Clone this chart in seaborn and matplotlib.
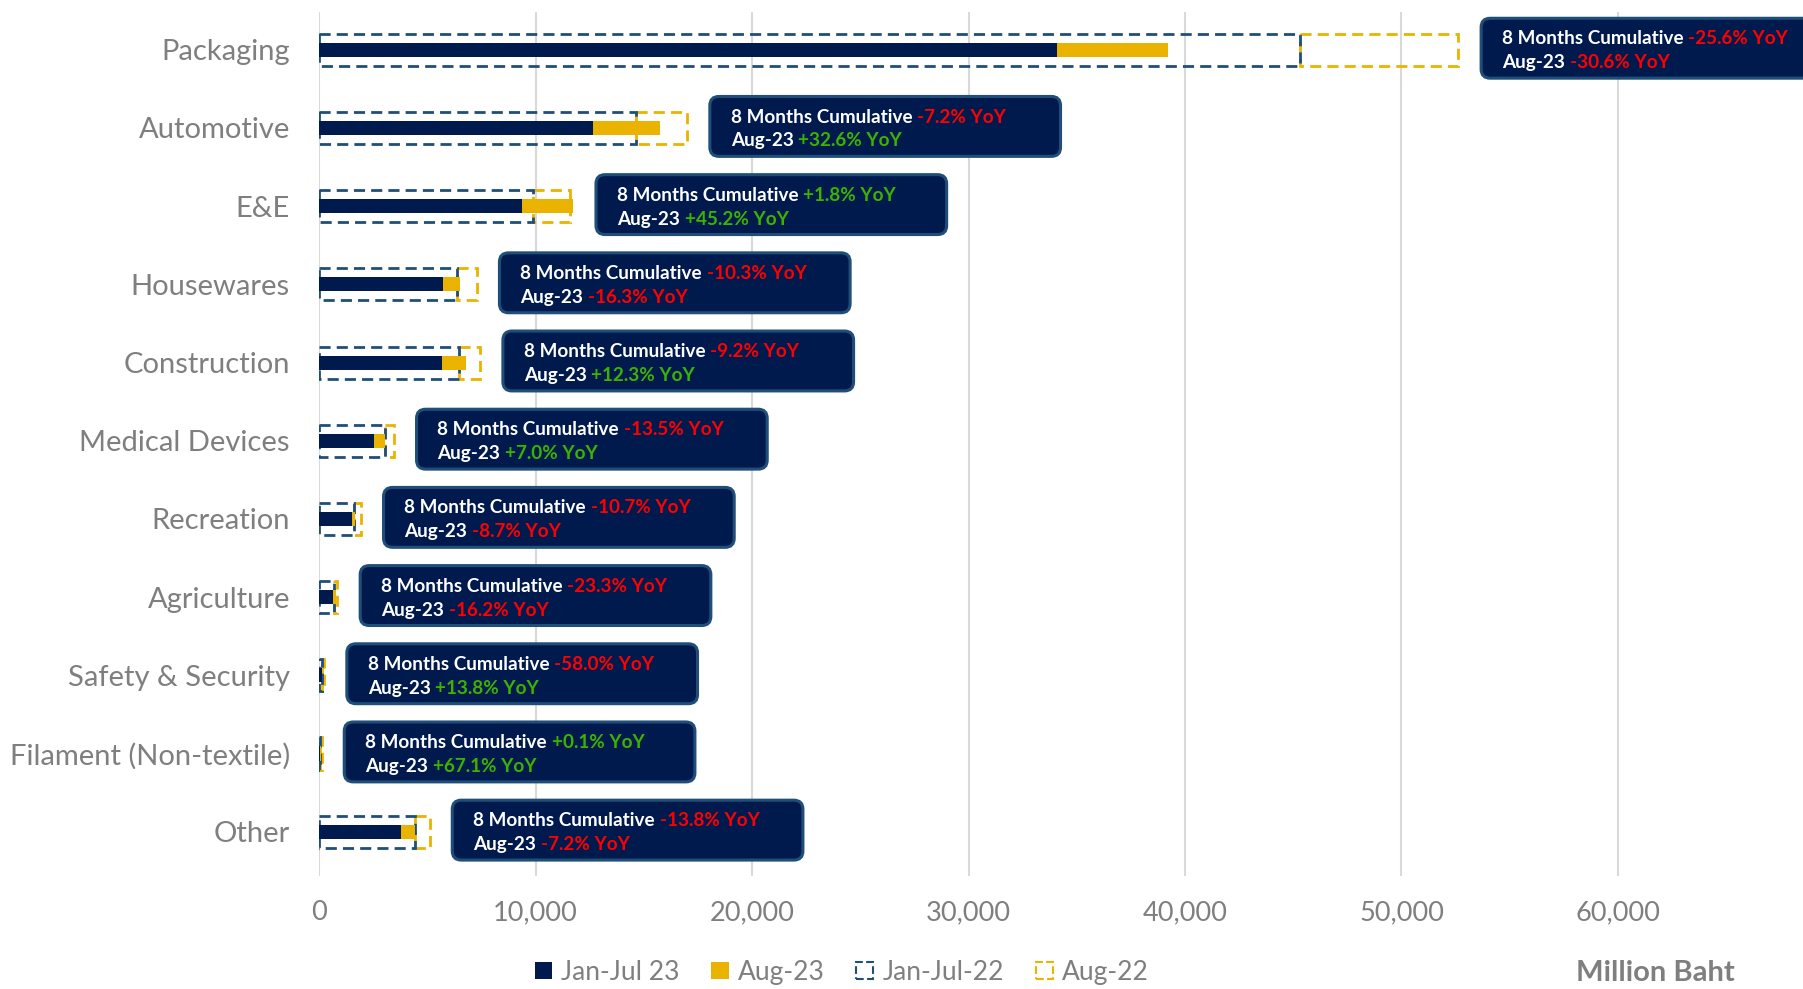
import numpy as np
import pandas as pd
import seaborn as sns
import matplotlib.pyplot as plt
from matplotlib.patches import FancyBboxPatch, Patch

categories = ["Packaging", "Automotive", "E&E", "Housewares", "Construction",
              "Medical Devices", "Recreation", "Agriculture", "Safety & Security",
              "Filament (Non-textile)", "Other"]
janjul_23 = [34100, 12640, 9350, 5740, 5680, 2550, 1510, 660, 110, 40, 3770]
aug_23 = [5100, 3130, 2390, 790, 1120, 480, 150, 125, 40, 30, 640]
janjul_22 = [45300, 14660, 9880, 6370, 6480, 3030, 1630, 706, 140, 60, 4410]
aug_22 = [7330, 2340, 1700, 910, 960, 420, 295, 140, 90, 50, 690]
cum_yoy = [-25.6, -7.2, 1.8, -10.3, -9.2, -13.5, -10.7, -23.3, -58.0, 0.1, -13.8]
aug_yoy = [-30.6, 32.6, 45.2, -16.3, 12.3, 7.0, -8.7, -16.2, 13.8, 67.1, -7.2]
xticks = [0, 10000, 20000, 30000, 40000, 50000, 60000]

NAVY = '#001a4e'
NAVY_DASH = '#1f4e79'
GOLD = '#e9b300'
GREY = '#7f7f7f'
RED = '#ff0000'
GREEN = '#3cb300'

sns.set_theme(style='white')
plt.rcParams['font.family'] = ['Lato', 'DejaVu Sans']

df = pd.DataFrame({'category': categories, 'janjul_23': janjul_23, 'aug_23': aug_23,
                   'janjul_22': janjul_22, 'aug_22': aug_22})
df['total_23'] = df['janjul_23'] + df['aug_23']
df['total_22'] = df['janjul_22'] + df['aug_22']
n = len(df)

fig = plt.figure(figsize=(18.03, 9.89), dpi=100)
ax_rect = [0.177, 0.114, 0.823, 0.874]
ax = fig.add_axes(ax_rect)

xmax = 68550
ylim = (10.57, -0.485)
dash = (0, (4.0, 2.2))

# this year: solid stacked bars
sns.barplot(data=df, x='total_23', y='category', color=GOLD, saturation=1, width=0.18,
            linewidth=0, errorbar=None, ax=ax, zorder=4)
sns.barplot(data=df, x='janjul_23', y='category', color=NAVY, saturation=1, width=0.18,
            linewidth=0, errorbar=None, ax=ax, zorder=5)
# last year: dashed outlines
sns.barplot(data=df, x='janjul_22', y='category', fill=False, color=NAVY_DASH, width=0.41,
            linewidth=2, linestyle=dash, errorbar=None, ax=ax, zorder=3)
ax.barh(np.arange(n), df['aug_22'], left=df['janjul_22'], height=0.41, fill=False,
        edgecolor=GOLD, lw=2, linestyle=dash, zorder=2)

ax.set_xlim(0, xmax)
ax.set_ylim(*ylim)

# annotation boxes
ax_w_px = ax_rect[2] * 1803
ax_h_px = ax_rect[3] * 989
px_x = ax_w_px / xmax
px_y = ax_h_px / (ylim[0] - ylim[1])
aspect = px_x / px_y


def fmt(v):
    return f"{v:+.1f}% YoY"


for i in range(n):
    x0 = max(df['total_23'][i], df['total_22'][i]) + 1050
    yc = i - 0.02
    box = FancyBboxPatch((x0, yc - 0.383), 16200, 0.766,
                         boxstyle='round,pad=0,rounding_size=420', mutation_aspect=aspect,
                         fc=NAVY, ec=NAVY_DASH, lw=2.2, clip_on=False, zorder=6)
    ax.add_patch(box)
    for dy, label, v in [(-0.12, '8 Months Cumulative', cum_yoy[i]),
                         (0.185, 'Aug-23', aug_yoy[i])]:
        t = ax.text(x0 + 960, yc + dy, label, color='white', fontweight='bold',
                    fontsize=13.6, va='center', ha='left', zorder=7)
        ax.annotate(fmt(v), xy=(1, 0), xycoords=t, xytext=(3.5, 0),
                    textcoords='offset points', va='bottom', ha='left',
                    color=RED if v < 0 else GREEN, fontweight='bold', fontsize=13.6,
                    zorder=7)

ax.set_xticks(xticks)
ax.set_xticklabels([f"{v:,}" for v in xticks])
ax.grid(axis='x', color='#d9d9d9', lw=1.5)
ax.grid(axis='y', visible=False)
ax.set_axisbelow(True)
for s in ax.spines.values():
    s.set_visible(False)
ax.tick_params(axis='y', labelsize=21, labelcolor=GREY, pad=21, length=0)
ax.tick_params(axis='x', labelsize=19.5, labelcolor=GREY, pad=17, length=0)
ax.set_xlabel('')
ax.set_ylabel('')

handles = [Patch(facecolor=NAVY, edgecolor='none'),
           Patch(facecolor=GOLD, edgecolor='none'),
           Patch(facecolor='none', edgecolor=NAVY_DASH, linestyle='--', lw=1.5),
           Patch(facecolor='none', edgecolor=GOLD, linestyle='--', lw=1.5)]
labels = ['Jan-Jul 23', 'Aug-23', 'Jan-Jul-22', 'Aug-22']
fig.legend(handles, labels, loc='center', bbox_to_anchor=(0.467, 0.017), ncol=4,
           frameon=False, fontsize=19, handlelength=0.65, handleheight=0.65,
           handletextpad=0.35, columnspacing=1.2, labelcolor=GREY)
fig.text(0.918, 0.016, 'Million Baht', ha='center', va='center', fontsize=21,
         fontweight='bold', color=GREY)

fig.savefig('out.png', dpi=100)
